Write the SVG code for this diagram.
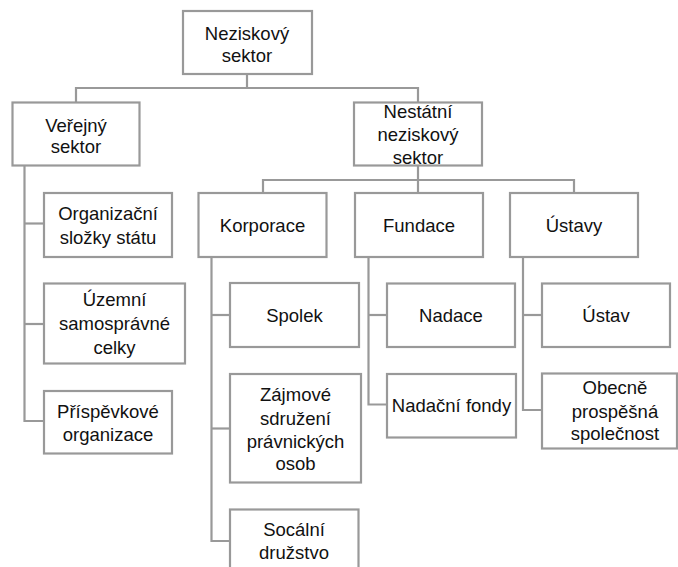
<svg xmlns="http://www.w3.org/2000/svg" width="678" height="567" viewBox="0 0 678 567">
<style>
.box{fill:#ffffff;stroke:#999999;stroke-width:2.2}
.ln{fill:none;stroke:#999999;stroke-width:2.2}
text{font-family:"Liberation Sans",Arial,sans-serif;font-size:18.5px;fill:#111111;text-anchor:middle}
</style>
<rect width="678" height="567" fill="#ffffff"/>
<g id="connectors">
<polyline class="ln" points="247,74 247,88"/>
<polyline class="ln" points="76,102 76,88 418,88 418,102"/>
<polyline class="ln" points="24.5,166 24.5,421 44,421"/>
<line class="ln" x1="24.5" y1="223.5" x2="44" y2="223.5"/>
<line class="ln" x1="24.5" y1="324" x2="44" y2="324"/>
<polyline class="ln" points="418,166 418,180"/>
<polyline class="ln" points="263,193 263,180 574,180 574,193"/>
<line class="ln" x1="418" y1="180" x2="418" y2="193"/>
<polyline class="ln" points="211.5,257 211.5,541 230,541"/>
<line class="ln" x1="211.5" y1="315" x2="230" y2="315"/>
<line class="ln" x1="211.5" y1="428.5" x2="230" y2="428.5"/>
<polyline class="ln" points="368.5,257 368.5,404.5 387,404.5"/>
<line class="ln" x1="368.5" y1="315" x2="387" y2="315"/>
<polyline class="ln" points="523,257 523,410 542,410"/>
<line class="ln" x1="523" y1="315" x2="542" y2="315"/>
</g>
<g id="n-neziskovy">
<rect class="box" x="183" y="11" width="129" height="63"/>
<text x="247" y="40">Neziskový</text>
<text x="247" y="61.5">sektor</text>
</g>
<g id="n-verejny">
<rect class="box" x="12.5" y="102.5" width="127" height="63"/>
<text x="76" y="131.5">Veřejný</text>
<text x="76" y="152.5">sektor</text>
</g>
<g id="n-nestatni">
<rect class="box" x="354" y="102.5" width="128" height="63"/>
<text x="418" y="117.5">Nestátní</text>
<text x="418" y="140.5">neziskový</text>
<text x="418" y="164">sektor</text>
</g>
<g id="n-organizacni">
<rect class="box" x="44" y="193" width="128" height="64"/>
<text x="108" y="219.5">Organizační</text>
<text x="108" y="243.5">složky státu</text>
</g>
<g id="n-uzemni">
<rect class="box" x="44" y="283.5" width="141" height="80"/>
<text x="114.5" y="306">Územní</text>
<text x="114.5" y="330">samosprávné</text>
<text x="114.5" y="353.5">celky</text>
</g>
<g id="n-prispevkove">
<rect class="box" x="44" y="391" width="128" height="62.5"/>
<text x="108" y="417.5">Příspěvkové</text>
<text x="108" y="441">organizace</text>
</g>
<g id="n-korporace">
<rect class="box" x="198.5" y="193" width="128" height="64"/>
<text x="262.5" y="231.5">Korporace</text>
</g>
<g id="n-fundace">
<rect class="box" x="355" y="193" width="128" height="64"/>
<text x="419" y="231.5">Fundace</text>
</g>
<g id="n-ustavy">
<rect class="box" x="510" y="193" width="128" height="64"/>
<text x="574" y="231.5">Ústavy</text>
</g>
<g id="n-spolek">
<rect class="box" x="230" y="283" width="129" height="64"/>
<text x="294.5" y="321.5">Spolek</text>
</g>
<g id="n-zajmove">
<rect class="box" x="230" y="374" width="131" height="108.5"/>
<text x="295.5" y="401">Zájmové</text>
<text x="295.5" y="424.5">sdružení</text>
<text x="295.5" y="447.5">právnických</text>
<text x="295.5" y="470">osob</text>
</g>
<g id="n-socalni">
<rect class="box" x="230" y="509.5" width="128.5" height="64"/>
<text x="294" y="535.5">Socální</text>
<text x="294" y="558.5">družstvo</text>
</g>
<g id="n-nadace">
<rect class="box" x="387" y="283.5" width="128" height="63.5"/>
<text x="451" y="321.5">Nadace</text>
</g>
<g id="n-nadacni-fondy">
<rect class="box" x="387" y="374" width="129" height="63.5"/>
<text x="451.5" y="411.5">Nadační fondy</text>
</g>
<g id="n-ustav">
<rect class="box" x="542" y="283.5" width="128" height="63.5"/>
<text x="606" y="321.5">Ústav</text>
</g>
<g id="n-obecne">
<rect class="box" x="542" y="373.5" width="135" height="75"/>
<text x="615" y="393.5">Obecně</text>
<text x="615" y="418">prospěšná</text>
<text x="615" y="440">společnost</text>
</g>
</svg>
